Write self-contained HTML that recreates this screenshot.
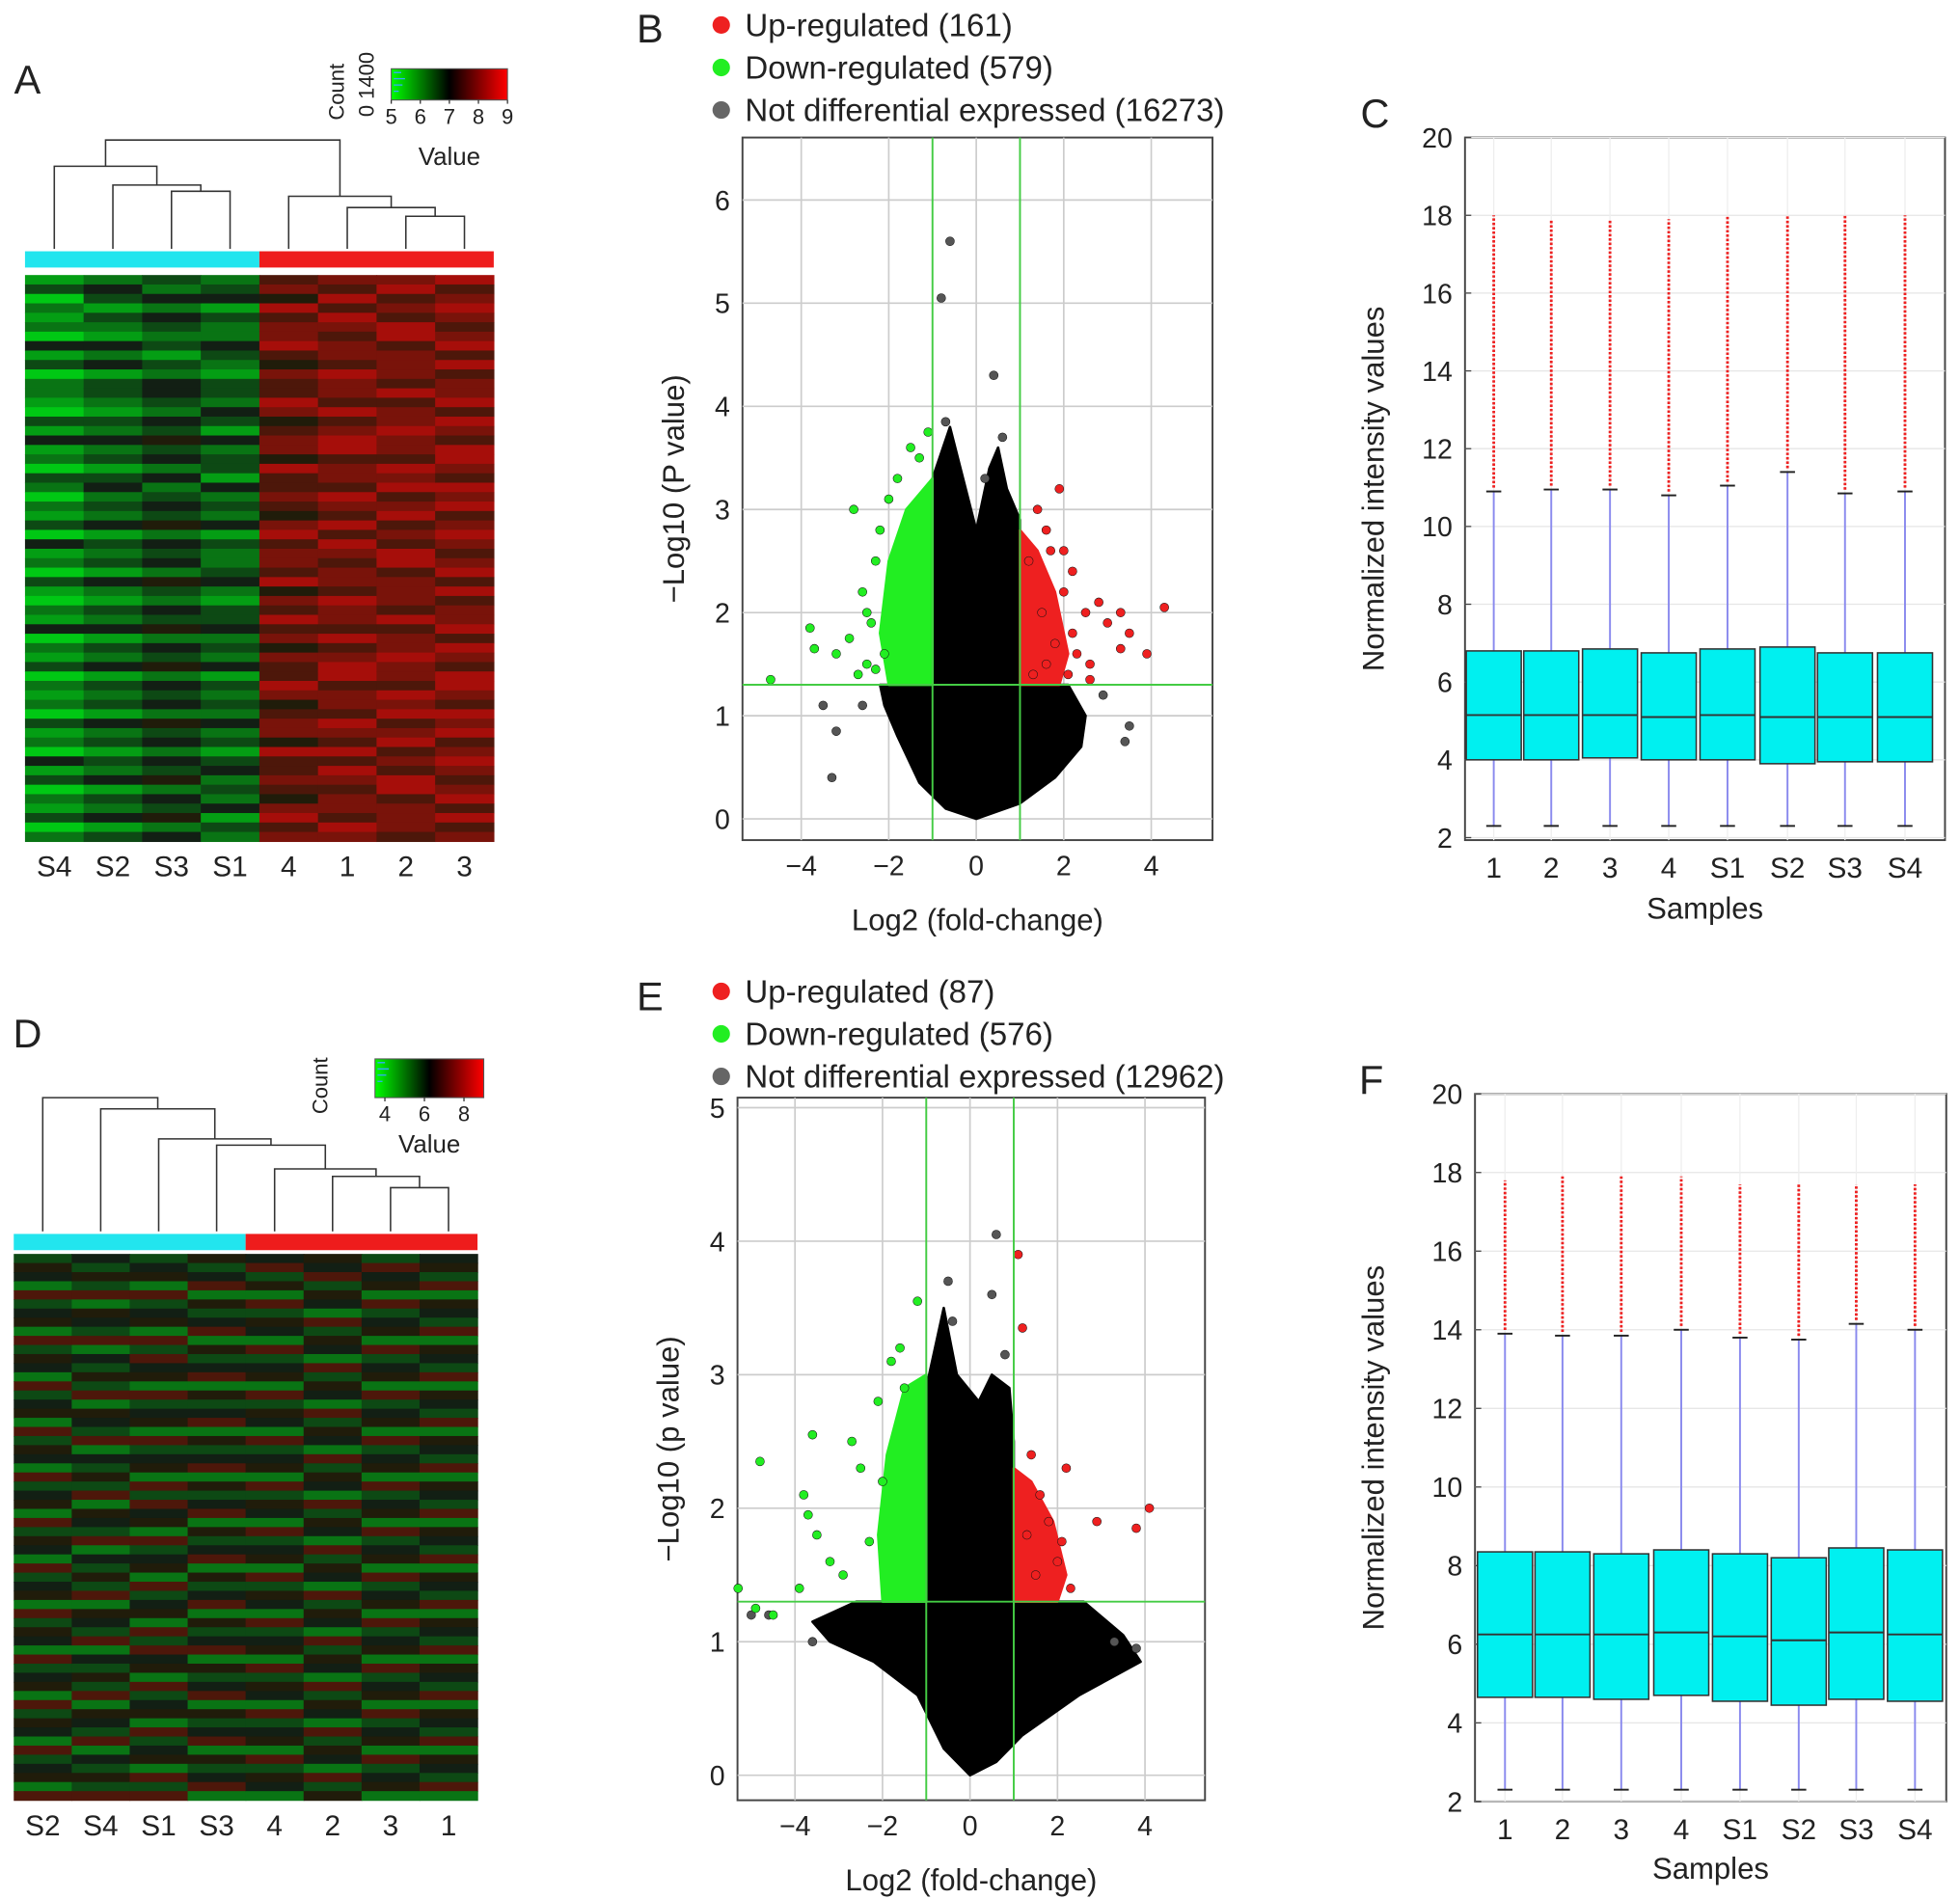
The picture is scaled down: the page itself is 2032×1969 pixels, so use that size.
<!DOCTYPE html>
<html><head><meta charset="utf-8"><style>
html,body{margin:0;padding:0;background:#fff}
svg{display:block}
text{font-family:"Liberation Sans",Arial,sans-serif;fill:#222}
</style></head><body>
<svg id="fig" xmlns="http://www.w3.org/2000/svg" width="2032" height="1969" viewBox="0 0 1568 1519" preserveAspectRatio="none">
</svg>
<script>
// ---------------- DATA ----------------
const heatA_labels=["S4","S2","S3","S1","4","1","2","3"];
const heatA_cols=[
"130212041302210314120320213041203102140213021203120413021302",
"243132142413321324231342324132314213241324132314231324132413",
"324243231324432435342423435243425324352435243425342435243524",
"234132243213324314233142324132234213342324132324231342324132",
"675867786576687567758667657867768576867576687567758667657867",
"768687677687768678867768768687677687768678867768768687677687",
"786768867776867787768786786768867776867787768786786768867776",
"867876786867786876887687867876786867786876887687867876786867"];
const heatD_labels=["S2","S4","S1","S3","4","2","3","1"];
const heatD_cols=[
"354263452635426345263542634526354263452635426345263542634526",
"435362543624353625436243536254362435362543624353625436243536",
"345263452636452634526345263645263452634526364526345263452636",
"534625346253462534625346253462534625346253462534625346253462",
"463526354263452635426345263542634526354263452635426345263542",
"546354263542635426354263542635426354263542635426354263542635",
"364526345263452634526345263452634526345263452634526345263452",
"453625436254362543625436254362543625436254362543625436254362"];
const dendA_merges=[[6,7,173],[5,8,166],[4,9,157],[2,3,153],[1,11,148],[0,12,133],[13,10,112]];
const dendD_merges=[[6,7,950],[5,8,941],[4,9,935],[3,10,916],[2,11,911],[1,12,887],[0,13,878]];

const volB_green=[[-4.7,1.35],[-3.8,1.85],[-3.7,1.65],[-2.8,3.0],[-3.2,1.6],[-2.9,1.75],[-2.6,2.2],[-2.5,1.5],[-2.7,1.4],[-2.3,2.5],[-2.4,1.9],[-2.2,2.8],[-2.0,3.1],[-1.8,3.3],[-1.5,3.6],[-1.1,3.75],[-1.3,3.5],[-2.1,1.6],[-2.5,2.0],[-2.3,1.45]];
const volB_greenArea=[[-1,1.3],[-2.0,1.3],[-2.2,1.8],[-2.0,2.5],[-1.6,3.0],[-1.0,3.3]];
const volB_red=[[1.3,1.4],[1.5,2.0],[1.2,2.5],[1.6,2.8],[1.4,3.0],[1.9,3.2],[1.7,2.6],[2.0,2.2],[2.2,1.8],[2.5,2.0],[2.8,2.1],[3.0,1.9],[3.3,2.0],[3.5,1.8],[3.3,1.65],[3.9,1.6],[4.3,2.05],[2.6,1.5],[2.1,1.4],[1.8,1.7],[2.3,1.6],[2.6,1.35],[1.6,1.5],[2.0,2.6],[2.2,2.4]];
const volB_redArea=[[1,1.3],[1.9,1.3],[2.1,1.6],[1.8,2.2],[1.4,2.6],[1,2.8]];
const volB_cloud=[[0,0],[-0.7,0.1],[-1.3,0.35],[-1.8,0.8],[-2.1,1.1],[-2.2,1.3],[-1,1.3],[-1,3.3],[-0.6,3.8],[-0.3,3.3],[0,2.8],[0.3,3.4],[0.5,3.6],[0.7,3.2],[1,2.9],[1,1.3],[2.1,1.3],[2.5,1.0],[2.4,0.7],[1.8,0.4],[1.0,0.15]];
const volB_gray=[[-0.8,5.05],[-0.6,5.6],[0.4,4.3],[-0.7,3.85],[3.5,0.9],[3.4,0.75],[-3.2,0.85],[-3.5,1.1],[-3.3,0.4],[0.6,3.7],[0.2,3.3],[-2.6,1.1],[2.9,1.2]];
const volB_xticks=[-4,-2,0,2,4];
const volB_yticks=[0,1,2,3,4,5,6];

const volE_green=[[-5.3,1.4],[-4.9,1.25],[-4.5,1.2],[-4.8,2.35],[-3.9,1.4],[-3.8,2.1],[-3.6,2.55],[-3.5,1.8],[-3.2,1.6],[-2.7,2.5],[-2.5,2.3],[-2.1,2.8],[-1.8,3.1],[-1.6,3.2],[-1.2,3.55],[-2.3,1.75],[-2.0,2.2],[-3.7,1.95],[-2.9,1.5],[-1.5,2.9]];
const volE_greenArea=[[-1,1.3],[-2.0,1.3],[-2.1,1.8],[-1.9,2.4],[-1.5,2.9],[-1,3.0]];
const volE_red=[[1.1,3.9],[1.2,3.35],[1.4,2.4],[1.6,2.1],[2.2,2.3],[2.9,1.9],[3.8,1.85],[4.1,2.0],[1.8,1.9],[2.0,1.6],[2.3,1.4],[2.1,1.75],[1.5,1.5],[1.3,1.8]];
const volE_redArea=[[1,1.3],[2.0,1.3],[2.2,1.5],[1.9,1.9],[1.4,2.2],[1,2.3]];
const volE_cloud=[[0,0],[-0.6,0.2],[-1.2,0.6],[-2.2,0.85],[-3.2,1.0],[-3.6,1.15],[-2.6,1.3],[-1,1.3],[-1,2.9],[-0.6,3.5],[-0.3,3.0],[0.2,2.8],[0.5,3.0],[0.9,2.9],[1,2.5],[1,1.3],[2.6,1.3],[3.5,1.05],[3.9,0.85],[2.5,0.6],[1.2,0.3],[0.6,0.1]];
const volE_gray=[[0.6,4.05],[0.5,3.6],[-0.5,3.7],[-0.4,3.4],[-5,1.2],[-4.6,1.2],[3.8,0.95],[0.8,3.15],[-3.6,1.0],[3.3,1.0]];
const volE_xticks=[-4,-2,0,2,4];
const volE_yticks=[0,1,2,3,4,5];

const boxC_labels=["1","2","3","4","S1","S2","S3","S4"];
const boxC_lo=[2.3,2.3,2.3,2.3,2.3,2.3,2.3,2.3];
const boxC_q1=[4.0,4.0,4.05,4.0,4.0,3.9,3.95,3.95];
const boxC_med=[5.15,5.15,5.15,5.1,5.15,5.1,5.1,5.1];
const boxC_q3=[6.8,6.8,6.85,6.75,6.85,6.9,6.75,6.75];
const boxC_hi=[10.9,10.95,10.95,10.8,11.05,11.4,10.85,10.9];
const boxC_max=[18,17.9,17.9,17.9,18,18,18,18];
const boxC_yticks=[2,4,6,8,10,12,14,16,18,20];

const boxF_labels=["1","2","3","4","S1","S2","S3","S4"];
const boxF_lo=[2.3,2.3,2.3,2.3,2.3,2.3,2.3,2.3];
const boxF_q1=[4.65,4.65,4.6,4.7,4.55,4.45,4.6,4.55];
const boxF_med=[6.25,6.25,6.25,6.3,6.2,6.1,6.3,6.25];
const boxF_q3=[8.35,8.35,8.3,8.4,8.3,8.2,8.45,8.4];
const boxF_hi=[13.9,13.85,13.85,14.0,13.8,13.75,14.15,14.0];
const boxF_max=[17.8,17.9,17.9,17.9,17.7,17.7,17.7,17.7];
const boxF_yticks=[2,4,6,8,10,12,14,16,18,20];

// ---------------- DRAW ----------------
const NS="http://www.w3.org/2000/svg";
const svg=document.getElementById('fig');
function mk(tag,attrs,parent){const e=document.createElementNS(NS,tag);for(const k in attrs)e.setAttribute(k,attrs[k]);(parent||svg).appendChild(e);return e;}
function txt(x,y,s,size,anchor,parent,rot){const t=mk('text',{x:x,y:y,'font-size':size,'text-anchor':anchor||'middle'},parent);if(rot)t.setAttribute('transform','rotate(-90 '+x+' '+y+')');t.textContent=s;return t;}
function g(name){const e=mk('g',{});return e;}

function heatColor(v){const t=v/9;let r,gg,b;if(t<0.5){const s=t/0.5;r=20*s;gg=200*(1-s)+10*s;b=20;}else{const s=(t-0.5)/0.5;r=10+200*s;gg=10+20*(1-s);b=10;}return 'rgb('+Math.round(r)+','+Math.round(gg)+','+Math.round(b)+')';}

function heatmap(name,cols,labels,x0,y0,w,h,hdrY,merges,labelY){
  const grp=g(name);
  const cw=w/cols.length;
  cols.forEach((col,ci)=>{
    const n=col.length,rh=h/n;
    for(let r=0;r<n;r++){
      const c=mk('rect',{x:x0+ci*cw,y:y0+r*rh,width:cw+0.5,height:rh+0.5,fill:heatColor(+col[r])},grp);
      
      
    }
    const t=txt(x0+(ci+0.5)*cw,labelY,labels[ci],23,'middle',grp);
    
    
  });
  const hc=mk('rect',{x:x0,y:hdrY,width:w/2,height:13,fill:'#22e5ee'},grp);
  
  const hr=mk('rect',{x:x0+w/2,y:hdrY,width:w/2,height:13,fill:'#ee1c1c'},grp);
  
  const nodes=[];for(let i=0;i<cols.length;i++)nodes.push({x:x0+(i+0.5)*cw,y:hdrY-2});
  const dg=g(name+'-dendrogram');
  merges.forEach(m=>{const a=nodes[m[0]],b=nodes[m[1]],y=m[2];
    const p=mk('path',{d:`M${a.x},${a.y}V${y}H${b.x}V${b.y}`,fill:'none',stroke:'#333','stroke-width':1.2},dg);
    
    nodes.push({x:(a.x+b.x)/2,y:y});});
}

function colorKey(name,x,y,w,h,ticks,tickVals,vmin,vmax,valY,cnt){
  const grp=g(name);
  const gradId=name+'-grad';
  const defs=mk('defs',{},grp);const lg=mk('linearGradient',{id:gradId},defs);
  mk('stop',{offset:'0',  'stop-color':'#00ff00'},lg);mk('stop',{offset:'0.5','stop-color':'#000'},lg);mk('stop',{offset:'1','stop-color':'#ff0000'},lg);
  mk('rect',{x:x,y:y,width:w,height:h,fill:'url(#'+gradId+')',stroke:'#555','stroke-width':0.8},grp);
  mk('path',{d:`M${x+2},${y+3}h6M${x+2},${y+8}h9M${x+2},${y+13}h7M${x+2},${y+18}h4`,stroke:'#3af','stroke-width':1},grp);
  tickVals.forEach(v=>{const xx=x+(v-vmin)/(vmax-vmin)*w;mk('line',{x1:xx,y1:y+h,x2:xx,y2:y+h+3,stroke:'#333'},grp);txt(xx,y+h+19,String(v),17,'middle',grp);});
  txt(x+w/2,valY,'Value',20,'middle',grp);
  txt(x-38,y+h/2+6,'Count',17,'middle',grp,true);
  if(cnt) txt(x-14,y+h/2,cnt,17,'middle',grp,true);
}

function volcano(name,box,xr,yr,xt,yt,cloud,gArea,rArea,green,red,gray,xTitle,yTitle,legY,counts){
  const grp=g(name);
  const [L,T,R,B]=box;
  const sx=v=>xr[2]+(v-xr[0])*(xr[3]-xr[2])/(xr[1]-xr[0]);
  const sy=v=>yr[2]+(v-yr[0])*(yr[3]-yr[2])/(yr[1]-yr[0]);
  mk('rect',{x:L,y:T,width:R-L,height:B-T,fill:'#fff',stroke:'#444','stroke-width':1.5},grp);
  xt.forEach(v=>{mk('line',{x1:sx(v),y1:T,x2:sx(v),y2:B,stroke:'#ccc','stroke-width':1.3},grp);const t=txt(sx(v),B+28,(v<0?'\u2212'+(-v):String(v)),22,'middle',grp);});
  yt.forEach(v=>{mk('line',{x1:L,y1:sy(v),x2:R,y2:sy(v),stroke:'#ccc','stroke-width':1.3},grp);const t=txt(L-10,sy(v)+8,String(v),22,'end',grp);});
  const poly=(pts,fill,nm)=>{const p=mk('polygon',{points:pts.map(q=>sx(q[0])+','+sy(q[1])).join(' '),fill:fill,stroke:fill,'stroke-width':2,'stroke-linejoin':'round'},grp);};
  poly(cloud,'#000','not-differential-cloud');
  poly(gArea,'#22ee22','down-regulated-cluster');
  poly(rArea,'#ee2020','up-regulated-cluster');
  const dots=(pts,fill,nm)=>pts.forEach(q=>{const c=mk('circle',{cx:sx(q[0]),cy:sy(q[1]),r:3.5,fill:fill,stroke:'#111','stroke-width':0.4},grp);});
  dots(gray,'#555','not-differential-point');
  dots(green,'#22ee22','down-regulated-point');
  dots(red,'#ee2020','up-regulated-point');
  mk('line',{x1:sx(-1),y1:T,x2:sx(-1),y2:B,stroke:'#4c4','stroke-width':1.5},grp);
  mk('line',{x1:sx(1),y1:T,x2:sx(1),y2:B,stroke:'#4c4','stroke-width':1.5},grp);
  mk('line',{x1:L,y1:sy(1.3),x2:R,y2:sy(1.3),stroke:'#4c4','stroke-width':1.5},grp);
  const xtT=txt((L+R)/2,B+72,xTitle,24,'middle',grp);
  const ytT=txt(L-47,(T+B)/2,yTitle,24,'middle',grp,true);
  const lg=g(name+'-legend');
  const items=[['#ee2020','Up-regulated ('+counts[0]+')'],['#22ee22','Down-regulated ('+counts[1]+')'],['#666','Not differential expressed ('+counts[2]+')']];
  items.forEach((it,i)=>{const y=legY+i*34;mk('circle',{cx:577,cy:y,r:7,fill:it[0]},lg);const t=txt(596,y+9,it[1],25.5,'start',lg);});
}

function boxplot(name,box,y0px,y1px,xs,labels,lo,q1,med,q3,hi,mx,yt,xTitleY,titleX){
  const grp=g(name);
  const [L,T,R,B]=box;
  const sy=v=>y0px+(v-2)*(y1px-y0px)/18;
  mk('rect',{x:L,y:T,width:R-L,height:B-T,fill:'#fff',stroke:'#444','stroke-width':1.5},grp);
  yt.forEach(v=>{mk('line',{x1:L,y1:sy(v),x2:R,y2:sy(v),stroke:'#e6e6e6','stroke-width':1},grp);mk('line',{x1:L,y1:sy(v),x2:L+5,y2:sy(v),stroke:'#444'},grp);const t=txt(L-10,sy(v)+8,String(v),22,'end',grp);});
  xs.forEach((x,i)=>{
    mk('line',{x1:x,y1:T,x2:x,y2:B,stroke:'#eee','stroke-width':1},grp);
    const w=mk('line',{x1:x,y1:sy(lo[i]),x2:x,y2:sy(hi[i]),stroke:'#8a8aee','stroke-width':1.5},grp);
    
    mk('line',{x1:x-6,y1:sy(lo[i]),x2:x+6,y2:sy(lo[i]),stroke:'#222','stroke-width':1.5},grp);
    mk('line',{x1:x-6,y1:sy(hi[i]),x2:x+6,y2:sy(hi[i]),stroke:'#222','stroke-width':1.5},grp);
    const o=mk('line',{x1:x,y1:sy(hi[i])-3,x2:x,y2:sy(mx[i]),stroke:'#ee2020','stroke-width':2.2,'stroke-dasharray':'2 1.5'},grp);
    
    const b=mk('rect',{x:x-22,y:sy(q3[i]),width:44,height:sy(q1[i])-sy(q3[i]),fill:'#00f0f0',stroke:'#333','stroke-width':1.2},grp);
    
    mk('line',{x1:x-22,y1:sy(med[i]),x2:x+22,y2:sy(med[i]),stroke:'#333','stroke-width':1.5},grp);
    const t=txt(x,B+30,labels[i],23,'middle',grp);
  });
  const xtT=txt((L+R)/2,xTitleY,'Samples',24,'middle',grp);
  const ytT=txt(titleX,(T+B)/2,'Normalized intensity values',24,'middle',grp,true);
}

heatmap('heatmap-a',heatA_cols,heatA_labels,20,220,375,453,201,dendA_merges,701);
colorKey('color-key-a',313,55,93,25,null,[5,6,7,8,9],5,9,132,'0 1400');
heatmap('heatmap-d',heatD_cols,heatD_labels,11,1003,371,437,987,dendD_merges,1468);
colorKey('color-key-d',300,847,87,31,null,[4,6,8],3.5,9,922,null);

volcano('volcano-b',[594,110,970,672],[0,4,781,921],[0,6,655,160],volB_xticks,volB_yticks,volB_cloud,volB_greenArea,volB_redArea,volB_green,volB_red,volB_gray,'Log2 (fold-change)','\u2212Log10 (P value)',20,[161,579,16273]);
volcano('volcano-e',[590,878,964,1440],[0,4,776,916],[0,5,1420,886],volE_xticks,volE_yticks,volE_cloud,volE_greenArea,volE_redArea,volE_green,volE_red,volE_gray,'Log2 (fold-change)','\u2212Log10 (p value)',793,[87,576,12962]);

boxplot('boxplot-c',[1172,110,1556,672],670,110,[1195,1241,1288,1335,1382,1430,1476,1524],boxC_labels,boxC_lo,boxC_q1,boxC_med,boxC_q3,boxC_hi,boxC_max,boxC_yticks,735,1107);
boxplot('boxplot-f',[1180,875,1557,1441],1441,875,[1204,1250,1297,1345,1392,1439,1485,1532],boxF_labels,boxF_lo,boxF_q1,boxF_med,boxF_q3,boxF_hi,boxF_max,boxF_yticks,1503,1107);

const pl=g('panel-labels');
[['A',22,75],['B',520,34],['C',1100,102],['D',22,838],['E',520,808],['F',1097,875]].forEach(p=>{const t=txt(p[1],p[2],p[0],32,'middle',pl);});
</script>
</body></html>
